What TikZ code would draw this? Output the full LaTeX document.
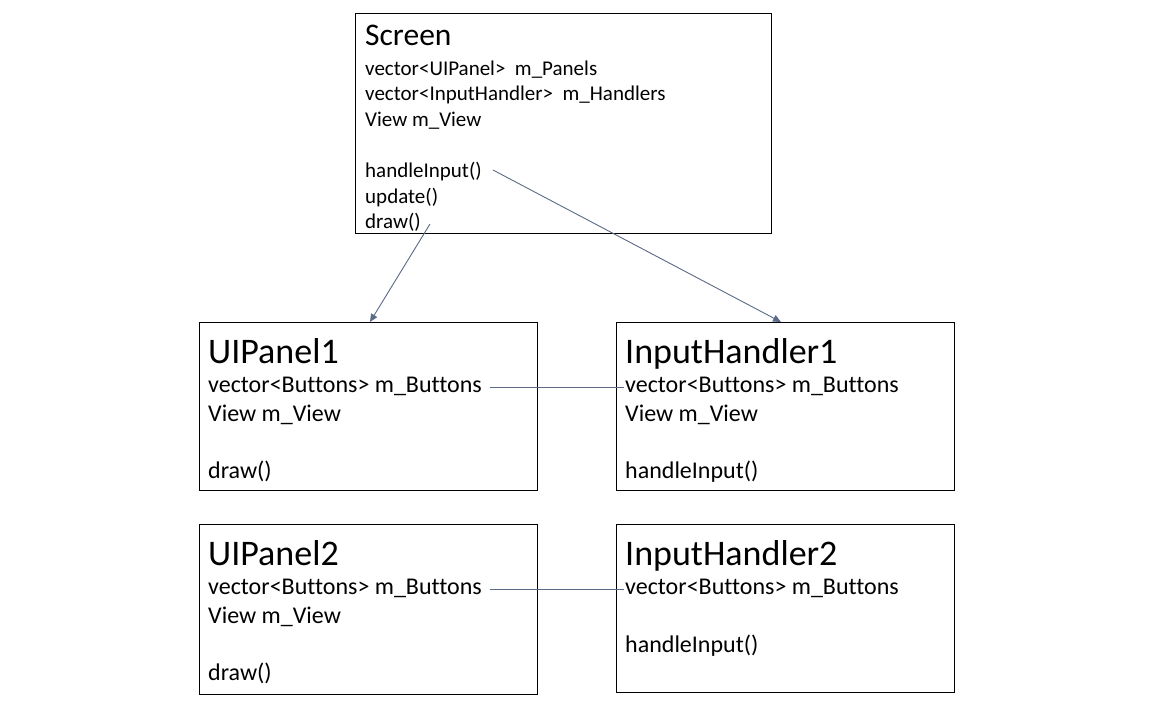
\documentclass[tikz,border=0pt]{standalone}
\usepackage{fontspec}
\setmainfont{Carlito}[Ligatures=NoCommon]
\usepackage{tikz}
\usetikzlibrary{arrows.meta, positioning, calc}
\usepackage{xcolor}
\definecolor{slateline}{HTML}{5B6A86}

\tikzset{
    classbox/.style={draw=black, line width=1pt, minimum width=338pt, minimum height=168pt, anchor=north west, inner sep=0pt},
    classtitle/.style={anchor=base west, inner sep=0pt, font=\fontsize{36}{40}\selectfont},
    member/.style={anchor=base west, inner sep=0pt, font=\fontsize{24}{28}\selectfont},
    scrtitle/.style={anchor=base west, inner sep=0pt, font=\fontsize{31.5}{35}\selectfont},
    scrmember/.style={anchor=base west, inner sep=0pt, font=\fontsize{21}{25}\selectfont},
    link/.style={draw=slateline, line width=0.9pt},
    calls/.style={link, -{Triangle[width=7pt,length=8pt]}}
}

\begin{document}
\begin{tikzpicture}[x=1pt, y=-1pt]
    \useasboundingbox[fill=white] (0,0) rectangle (1151,706);

    % boxes
    \node[classbox, minimum width=416pt, minimum height=220pt] (screen) at (355,13) {};
    \node[classbox] (panelA) at (199,322) {};
    \node[classbox] (handlerA) at (616,322) {};
    \node[classbox, minimum height=170pt] (panelB) at (199,524) {};
    \node[classbox] (handlerB) at (616,524) {};

    % Screen
    \node[scrtitle] (scrName) at (365,46) {Screen};
    \node[scrmember] (scrPanels) at (365,76) {vector<UIPanel>\ \ m\_Panels};
    \node[scrmember] (scrHandlers) at (365,101) {vector<InputHandler>\ \ m\_Handlers};
    \node[scrmember] (scrView) at (365,126.5) {View m\_View};
    \node[scrmember] (scrInput) at (365,177.5) {handleInput()};
    \node[scrmember] (scrUpdate) at (365,203) {update()};
    \node[scrmember] (scrDraw) at (365,228.5) {draw()};

    % UIPanel1
    \node[classtitle] (pAName) at (208,363) {UIPanel1};
    \node[member] (pAButtons) at (208,392) {vector<Buttons> m\_Buttons};
    \node[member] (pAView) at (208,421) {View m\_View};
    \node[member] (pADraw) at (208,478) {draw()};

    % InputHandler1
    \node[classtitle] (hAName) at (625,363) {InputHandler1};
    \node[member] (hAButtons) at (625,392) {vector<Buttons> m\_Buttons};
    \node[member] (hAView) at (625,421) {View m\_View};
    \node[member] (hAInput) at (625,478) {handleInput()};

    % UIPanel2
    \node[classtitle] (pBName) at (208,565) {UIPanel2};
    \node[member] (pBButtons) at (208,594) {vector<Buttons> m\_Buttons};
    \node[member] (pBView) at (208,623) {View m\_View};
    \node[member] (pBDraw) at (208,680) {draw()};

    % InputHandler2
    \node[classtitle] (hBName) at (625,565) {InputHandler2};
    \node[member] (hBButtons) at (625,594) {vector<Buttons> m\_Buttons};
    \node[member] (hBInput) at (625,652) {handleInput()};

    % connectors
    \draw[calls] ([xshift=11pt, yshift=7.5pt]scrInput.base east) -- ([xshift=165pt]handlerA.north west);
    \draw[calls] ([xshift=9pt, yshift=4.5pt]scrDraw.base east) -- ([xshift=171pt]panelA.north west);
    \draw[link] ([xshift=8pt, yshift=5pt]pAButtons.base east) -- ([xshift=-1pt, yshift=5pt]hAButtons.base west);
    \draw[link] ([xshift=8pt, yshift=5pt]pBButtons.base east) -- ([xshift=-1pt, yshift=5pt]hBButtons.base west);
\end{tikzpicture}
\end{document}
